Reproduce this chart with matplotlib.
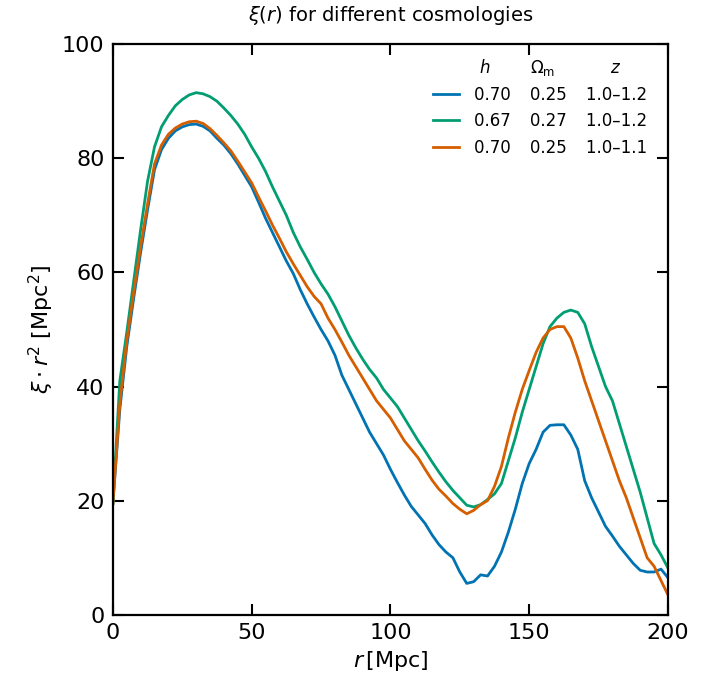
import matplotlib
matplotlib.use("Agg")
import matplotlib.pyplot as plt
import numpy as np

# separation grid [Mpc]
r = np.arange(0, 200.01, 2.5)

# xi * r^2 for each cosmology
xi_h070_z12 = [19.5, 36, 47, 55.5, 63.5, 71, 78, 81.5, 83.5, 84.8, 85.5, 85.9, 86.0, 85.6, 84.8,
               83.5, 82.3, 80.8, 79, 77, 75, 72.3, 69.5, 67, 64.5, 62, 59.8, 57, 54.5, 52.2,
               50, 48, 45.5, 42, 39.5, 37, 34.5, 32, 30, 28, 25.5, 23.2, 21, 19, 17.5,
               16, 14, 12.3, 11, 10, 7.5, 5.5, 5.8, 7, 6.8, 8.5, 11, 14.5, 18.5, 23,
               26.5, 29, 32, 33.2, 33.3, 33.3, 31.5, 29, 23.5, 20.5, 18, 15.5, 13.8, 12, 10.5,
               9, 7.8, 7.5, 7.5, 8, 6.5]
xi_h067_z12 = [19.5, 41, 49.5, 58.5, 67.5, 76, 82, 85.5, 87.5, 89.2, 90.3, 91.1, 91.5, 91.3, 90.8,
               90, 88.8, 87.5, 86, 84.2, 82, 80, 77.7, 75, 72.5, 70, 67, 64.5, 62.3, 60,
               58, 56.2, 54, 51.5, 49, 46.8, 44.8, 43, 41.5, 39.5, 38, 36.5, 34.5, 32.5, 30.5,
               28.7, 26.8, 25, 23.3, 21.8, 20.5, 19.2, 18.9, 19.3, 20.2, 21.2, 23, 27, 31, 35.5,
               39.5, 43.5, 47.5, 50.5, 52, 53, 53.4, 53, 51, 47, 43.5, 40, 37.5, 33.5, 29.5,
               25.5, 21.5, 17, 12.5, 10.5, 8.2]
xi_h070_z11 = [19.5, 37, 48, 56.5, 64.5, 72, 79, 82.3, 84.2, 85.3, 86, 86.4, 86.5, 86.1, 85.2,
               84, 82.7, 81.3, 79.5, 77.6, 75.7, 73.2, 70.8, 68.3, 66, 63.6, 61.5, 59.5, 57.5, 55.8,
               54.5, 52, 50, 47.8, 45.5, 43.5, 41.5, 39.5, 37.5, 36, 34.5, 32.5, 30.5, 29, 27.5,
               25.5, 23.6, 22, 20.8, 19.5, 18.5, 17.7, 18.3, 19.3, 20, 22.5, 26, 31, 35.5, 39.5,
               42.8, 46, 48.5, 50, 50.5, 50.5, 48.5, 45, 41, 37.5, 34, 30.5, 27, 23.5, 20.5,
               17, 13.5, 10, 8.5, 6, 3.5]

h_vals = ["0.70", "0.67", "0.70"]
om_vals = ["0.25", "0.27", "0.25"]
z_vals = ["1.0\u20131.2", "1.0\u20131.2", "1.0\u20131.1"]
colors = ["#0173b2", "#029e73", "#d55e00"]

fig = plt.figure(figsize=(7.19, 6.9), dpi=100)
ax = fig.add_axes([0.157, 0.109, 0.772, 0.827])

series = [xi_h070_z12, xi_h067_z12, xi_h070_z11]
gap = "   \u2009"
for ys, c, h, om, z in zip(series, colors, h_vals, om_vals, z_vals):
    ax.plot(r, ys, color=c, lw=2.0, label=f"{h}{gap}{om}{gap}{z}")

ax.set_xlim(0, 200)
ax.set_ylim(0, 100)
ax.set_xticks([0, 50, 100, 150, 200])
ax.set_yticks([0, 20, 40, 60, 80, 100])
ax.tick_params(direction="in", top=True, right=True, length=8, width=1.5,
               labelsize=16, pad=6)
for s in ax.spines.values():
    s.set_linewidth(1.6)

ax.set_xlabel(r"$r\,$[Mpc]", fontsize=16)
ax.set_ylabel(r"$\xi\cdot r^2$ [Mpc$^2$]", fontsize=16)
ax.set_title(r"$\xi(r)$ for different cosmologies", fontsize=14, pad=17)

leg = ax.legend(loc="upper right", bbox_to_anchor=(0.99, 0.953), frameon=False,
                fontsize=12, handlelength=1.6, handletextpad=0.9, labelspacing=0.5)

for x, t in [(0.670, r"$h$"), (0.775, r"$\Omega_{\rm m}$"), (0.906, r"$z$")]:
    ax.text(x, 0.958, t, transform=ax.transAxes, ha="center", va="center", fontsize=12)

fig.savefig("out.png", dpi=100)
plt.close(fig)
